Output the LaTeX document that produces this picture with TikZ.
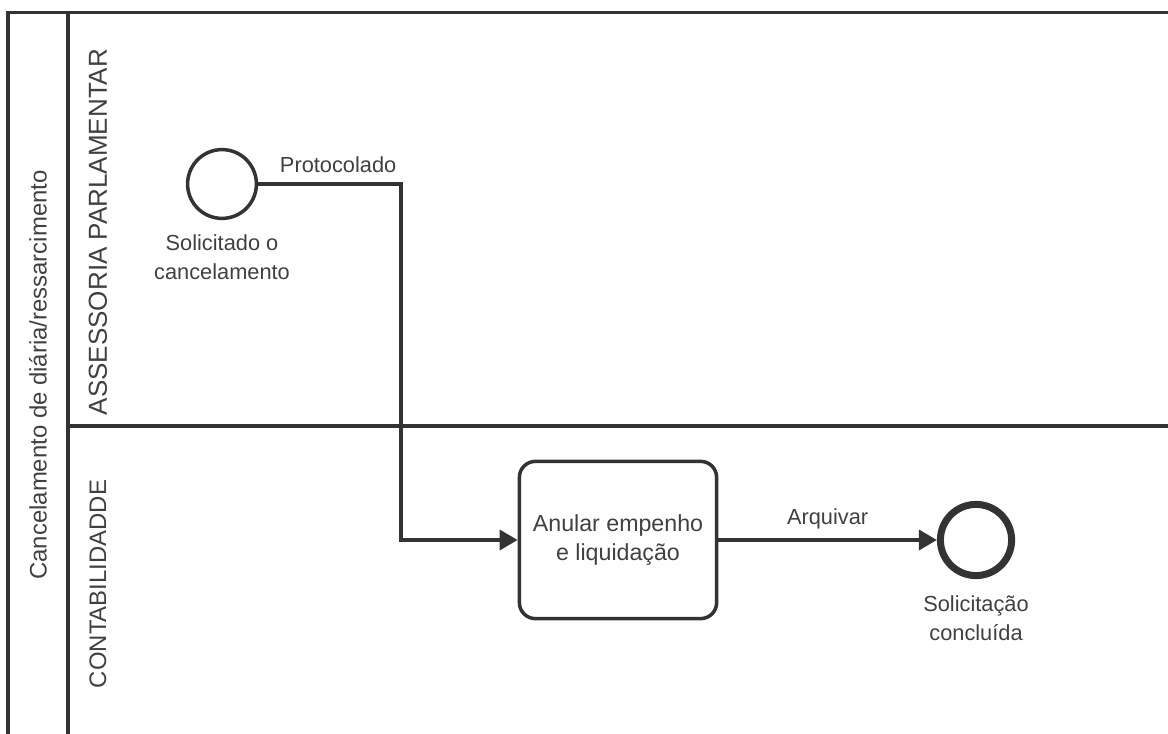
\documentclass[tikz,border=0pt]{standalone}
\usepackage{fontspec}
\setmainfont{Liberation Sans}
\usetikzlibrary{arrows.meta,positioning}

\begin{document}
\begin{tikzpicture}[x=0.025cm, y=-0.025cm,
    pool/.style={draw=black!80, line width=2.5pt},
    lanelabel/.style={rotate=90, text=black!75, font=\fontsize{17}{20}\selectfont},
    txt/.style={text=black!75, font=\fontsize{15.5}{20}\selectfont, align=center},
    flowlabel/.style={txt, above=0.12cm},
    startev/.style={circle, draw=black!80, line width=2.5pt, minimum size=1.72cm, inner sep=0pt},
    endev/.style={circle, draw=black!80, line width=5pt, minimum size=1.78cm, inner sep=0pt},
    task/.style={rectangle, rounded corners=0.4cm, draw=black!80, line width=2.5pt,
        minimum width=4.93cm, minimum height=3.93cm, txt, font=\fontsize{16.5}{20.5}\selectfont},
    flow/.style={draw=black!80, line width=2.5pt, -{Triangle[length=0.45cm, width=0.5cm]}}]
    \useasboundingbox (0,0) rectangle (1168,734);

    % pool and lanes
    \draw[pool] (8,734) -- (8,12.5) -- (1168,12.5);
    \draw[pool] (68,12.5) -- (68,734);
    \draw[pool] (68,426) -- (1168,426);
    \node[lanelabel] (pool) at (38,375) {Cancelamento de diária/ressarcimento};
    \node[lanelabel, font=\fontsize{18.5}{22}\selectfont] (assessoria) at (98,232) {ASSESSORIA PARLAMENTAR};
    \node[lanelabel] (contab) at (98,584) {CONTABILIDADDE};

    % events and task
    \node[startev] (start) at (222,184) {};
    \node[txt, below=0.25cm of start] (startlbl) {Solicitado o\\cancelamento};
    \node[task] (anular) at (618,540) {Anular empenho\\e liquidação};
    \node[endev] (fim) at (976,540) {};
    \node[txt, below=0.3cm of fim] (fimlbl) {Solicitação\\concluída};
    \coordinate (bend) at (401,540);

    \draw[flow] (start.east) -| node[flowlabel, pos=0.28] {Protocolado} (bend) -- (anular.west);
    \draw[flow] (anular.east) -- node[flowlabel] {Arquivar} (fim.west);
\end{tikzpicture}
\end{document}
